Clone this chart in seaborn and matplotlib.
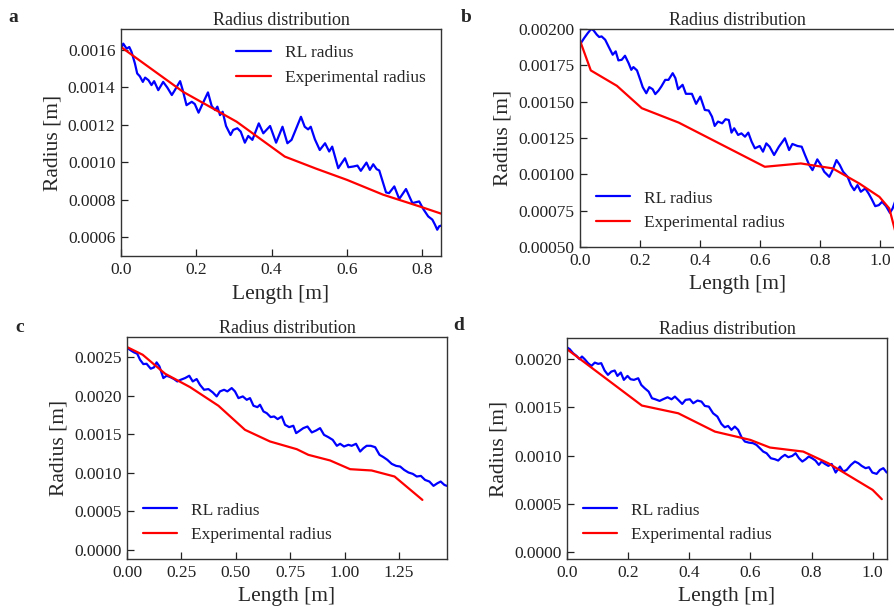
import matplotlib
matplotlib.use("Agg")
import seaborn as sns
from matplotlib import pyplot as plt
from matplotlib.ticker import MultipleLocator, FormatStrFormatter

# panel a
a_rl_x = [0.002,0.006,0.015,0.022,0.028,0.037,0.043,0.050,0.058,0.064,0.073,0.081,0.088,0.099,0.112,0.123,0.135,0.143,0.157,0.164,
          0.174,0.188,0.196,0.206,0.215,0.231,0.241,0.250,0.256,0.263,0.270,0.279,0.291,0.298,0.309,0.318,0.329,0.338,0.349,0.366,
          0.378,0.396,0.412,0.429,0.442,0.453,0.462,0.478,0.488,0.497,0.504,0.515,0.528,0.542,0.553,0.561,0.577,0.586,0.595,0.604,
          0.617,0.628,0.637,0.652,0.661,0.670,0.679,0.686,0.704,0.712,0.726,0.739,0.757,0.774,0.792,0.803,0.816,0.827,0.834,0.840,
          0.845,0.850]
a_rl_y = [0.001614,0.001632,0.001605,0.001614,0.001588,0.001526,0.001473,0.001458,0.001428,0.001451,0.001437,0.001411,0.001432,0.001384,0.001428,
          0.001398,0.001358,0.001384,0.001432,0.001384,0.001304,0.001322,0.001310,0.001264,0.001304,0.001372,0.001299,0.001278,0.001296,0.001251,
          0.001269,0.001193,0.001145,0.001172,0.001181,0.001163,0.001104,0.001140,0.001119,0.001207,0.001154,0.001193,0.001104,0.001189,0.001101,
          0.001119,0.001163,0.001242,0.001189,0.001175,0.001189,0.001122,0.001065,0.001101,0.001057,0.001083,0.000968,0.000995,0.001021,0.000973,
          0.000977,0.000982,0.000954,0.000998,0.000959,0.000989,0.000963,0.000956,0.000839,0.000835,0.000871,0.000804,0.000857,0.000782,0.000791,
          0.000750,0.000711,0.000694,0.000667,0.000640,0.000658,0.000662]
a_exp_x = [0.0, 0.165, 0.307, 0.435, 0.519, 0.600, 0.696, 0.798, 0.850]
a_exp_y = [0.001614, 0.001375, 0.001216, 0.001030, 0.000965, 0.000906, 0.000827, 0.000761, 0.000726]

# panel b
b_rl_x = [0.003,0.014,0.026,0.037,0.045,0.056,0.064,0.072,0.084,0.095,0.109,0.119,0.128,0.139,0.150,0.162,0.171,0.178,0.190,0.201,
          0.209,0.221,0.231,0.242,0.251,0.262,0.271,0.284,0.295,0.309,0.318,0.327,0.342,0.353,0.373,0.387,0.401,0.416,0.429,0.440,
          0.449,0.460,0.474,0.485,0.496,0.505,0.514,0.527,0.538,0.550,0.561,0.572,0.583,0.599,0.610,0.621,0.632,0.647,0.663,0.683,
          0.697,0.708,0.725,0.739,0.750,0.764,0.775,0.791,0.803,0.814,0.831,0.842,0.855,0.866,0.877,0.892,0.903,0.914,0.925,0.936,
          0.951,0.962,0.973,0.984,0.996,1.007,1.020,1.033,1.042,1.050]
b_rl_y = [0.001903,0.001938,0.001972,0.002000,0.001991,0.001961,0.001945,0.001949,0.001926,0.001880,0.001823,0.001846,0.001784,0.001788,0.001816,
          0.001765,0.001719,0.001738,0.001715,0.001650,0.001600,0.001558,0.001600,0.001586,0.001552,0.001577,0.001604,0.001650,0.001650,0.001696,
          0.001662,0.001586,0.001616,0.001554,0.001554,0.001485,0.001535,0.001443,0.001439,0.001397,0.001333,0.001363,0.001351,0.001379,0.001374,
          0.001287,0.001317,0.001271,0.001282,0.001259,0.001287,0.001225,0.001179,0.001195,0.001156,0.001213,0.001190,0.001133,0.001190,0.001248,
          0.001167,0.001209,0.001195,0.001190,0.001133,0.001064,0.001029,0.001103,0.001064,0.001018,0.000983,0.001029,0.001098,0.001064,0.001018,
          0.000983,0.000926,0.000891,0.000926,0.000880,0.000903,0.000868,0.000827,0.000781,0.000788,0.000811,0.000781,0.000735,0.000765,0.000811]
b_exp_x = [0.0, 0.036, 0.123, 0.206, 0.329, 0.616, 0.736, 0.842, 0.931, 0.998, 1.031, 1.050]
b_exp_y = [0.001920, 0.001715, 0.001609, 0.001455, 0.001356, 0.001052, 0.001075, 0.001041, 0.000937, 0.000845, 0.000765, 0.000615]

# panel c
c_rl_x = [0.002,0.017,0.032,0.047,0.060,0.075,0.090,0.109,0.124,0.136,0.149,0.167,0.182,0.198,0.216,0.231,0.247,0.267,0.286,0.302,
          0.320,0.335,0.354,0.374,0.394,0.412,0.427,0.446,0.461,0.481,0.496,0.512,0.532,0.550,0.565,0.581,0.599,0.611,0.627,0.642,
          0.660,0.676,0.692,0.711,0.726,0.745,0.764,0.777,0.795,0.810,0.829,0.849,0.869,0.887,0.905,0.925,0.945,0.964,0.979,0.997,
          1.017,1.032,1.052,1.071,1.086,1.101,1.120,1.140,1.160,1.178,1.196,1.216,1.236,1.255,1.273,1.293,1.313,1.331,1.350,1.369,
          1.389,1.408,1.426,1.441,1.458,1.469]
c_rl_y = [0.002617,0.002587,0.002561,0.002543,0.002465,0.002409,0.002413,0.002349,0.002366,0.002431,0.002379,0.002228,0.002258,0.002241,0.002215,
          0.002184,0.002206,0.002228,0.002258,0.002184,0.002215,0.002141,0.002076,0.002085,0.002042,0.001990,0.002055,0.002076,0.002055,0.002098,
          0.002055,0.001968,0.001990,0.001946,0.001968,0.001869,0.001851,0.001882,0.001795,0.001773,0.001722,0.001730,0.001696,0.001730,0.001622,
          0.001592,0.001610,0.001514,0.001549,0.001579,0.001600,0.001523,0.001549,0.001579,0.001492,0.001462,0.001427,0.001350,0.001376,0.001341,
          0.001363,0.001350,0.001376,0.001276,0.001319,0.001350,0.001350,0.001332,0.001233,0.001203,0.001168,0.001116,0.001090,0.001081,0.001038,
          0.001004,0.000986,0.000952,0.000960,0.000908,0.000887,0.000831,0.000865,0.000887,0.000843,0.000831]
c_exp_x = [0.0, 0.072, 0.175, 0.290, 0.420, 0.542, 0.657, 0.780, 0.833, 0.933, 1.025, 1.124, 1.229, 1.357]
c_exp_y = [0.002630, 0.002530, 0.002284, 0.002110, 0.001869, 0.001557, 0.001406, 0.001306, 0.001233, 0.001160, 0.001047, 0.001030, 0.000952, 0.000649]

# panel d
d_rl_x = [0.001,0.009,0.020,0.031,0.041,0.049,0.058,0.069,0.080,0.091,0.102,0.112,0.123,0.134,0.145,0.156,0.165,0.176,0.186,0.198,
          0.208,0.219,0.233,0.243,0.254,0.267,0.278,0.289,0.303,0.314,0.329,0.342,0.353,0.364,0.377,0.388,0.402,0.413,0.427,0.440,
          0.451,0.464,0.478,0.492,0.505,0.516,0.527,0.538,0.549,0.560,0.571,0.582,0.595,0.609,0.620,0.631,0.642,0.653,0.667,0.680,
          0.691,0.702,0.713,0.724,0.737,0.748,0.759,0.770,0.781,0.791,0.802,0.813,0.824,0.833,0.844,0.855,0.866,0.879,0.893,0.904,
          0.915,0.929,0.942,0.953,0.964,0.977,0.988,0.999,1.013,1.024,1.035,1.046]
d_rl_y = [0.002121,0.002104,0.002062,0.002035,0.002000,0.002028,0.002000,0.001959,0.001931,0.001965,0.001952,0.001959,0.001883,0.001838,0.001872,
          0.001883,0.001827,0.001862,0.001786,0.001827,0.001793,0.001786,0.001803,0.001734,0.001700,0.001665,0.001596,0.001585,0.001568,0.001585,
          0.001606,0.001585,0.001613,0.001579,0.001537,0.001579,0.001585,0.001544,0.001572,0.001561,0.001516,0.001509,0.001440,0.001406,0.001330,
          0.001295,0.001309,0.001268,0.001302,0.001268,0.001192,0.001147,0.001136,0.001130,0.001112,0.001078,0.001043,0.001026,0.000974,0.000964,
          0.000950,0.000985,0.001009,0.000985,0.000998,0.001026,0.000974,0.000940,0.000964,0.000992,0.000974,0.000950,0.000905,0.000940,0.000915,
          0.000895,0.000915,0.000826,0.000888,0.000836,0.000853,0.000905,0.000940,0.000923,0.000895,0.000871,0.000881,0.000826,0.000812,0.000853,
          0.000871,0.000826]
d_exp_x = [0.0, 0.245, 0.364, 0.484, 0.600, 0.664, 0.773, 0.855, 1.000, 1.030]
d_exp_y = [0.002104, 0.001520, 0.001440, 0.001250, 0.001164, 0.001085, 0.001043, 0.000922, 0.000646, 0.000550]

sns.set_style("ticks")
plt.rcParams['font.family'] = ['Liberation Serif', 'DejaVu Serif']

W, H = 894, 608
fig = plt.figure(figsize=(W / 100, H / 100), dpi=100)


def box(l, t, r, b):
    return [l / W, 1 - b / H, (r - l) / W, (b - t) / H]


panels = [
    # rect, rl, exp, xlim, ylim, xstep, xfmt, ystep, yfmt, legend loc, letter pos
    (box(121, 29, 441, 256), (a_rl_x, a_rl_y), (a_exp_x, a_exp_y), (0, 0.85), (0.0005, 0.00171),
     0.2, '%.1f', 0.0002, '%.4f', 'upper right', 'a', (8, 18)),
    (box(580, 29, 895, 247), (b_rl_x, b_rl_y), (b_exp_x, b_exp_y), (0, 1.05), (0.0005, 0.002),
     0.2, '%.1f', 0.00025, '%.5f', 'lower left', 'b', (461, 18)),
    (box(127, 337, 447, 559), (c_rl_x, c_rl_y), (c_exp_x, c_exp_y), (0, 1.47), (-0.000117, 0.00276),
     0.25, '%.2f', 0.0005, '%.4f', 'lower left', 'c', (15, 327)),
    (box(567, 338, 887, 559), (d_rl_x, d_rl_y), (d_exp_x, d_exp_y), (0, 1.047), (-0.00007, 0.00222),
     0.2, '%.1f', 0.0005, '%.4f', 'lower left', 'd', (453, 326)),
]

for rect, rl, ex, xl, yl, xs, xf, ys, yf, loc, letter, lp in panels:
    ax = fig.add_axes(rect)
    sns.lineplot(x=rl[0], y=rl[1], ax=ax, color='blue', lw=1.6, label='RL radius',
                 estimator=None, sort=False)
    sns.lineplot(x=ex[0], y=ex[1], ax=ax, color='red', lw=1.6, label='Experimental radius',
                 estimator=None, sort=False)
    ax.set_xlim(*xl)
    ax.set_ylim(*yl)
    ax.xaxis.set_major_locator(MultipleLocator(xs))
    ax.xaxis.set_major_formatter(FormatStrFormatter(xf))
    ax.yaxis.set_major_locator(MultipleLocator(ys))
    ax.yaxis.set_major_formatter(FormatStrFormatter(yf))
    ax.tick_params(direction='in', length=5, width=0.9, labelsize=12.5, colors='#222222',
                   top=False, right=False, pad=4)
    for s in ax.spines.values():
        s.set_visible(True)
        s.set_color('#333333')
        s.set_linewidth(1.0)
    ax.set_title('Radius distribution', fontsize=13, pad=3)
    ax.set_xlabel('Length [m]', fontsize=15.5, labelpad=5)
    ax.set_ylabel('Radius [m]', fontsize=15.5, labelpad=4)
    ax.legend(loc=loc, frameon=False, fontsize=12.5, handlelength=2.0)
    fig.text(lp[0] / W, 1 - lp[1] / H, letter, fontsize=14, fontweight='bold',
             ha='left', va='center')

fig.savefig('out.png', dpi=100)
